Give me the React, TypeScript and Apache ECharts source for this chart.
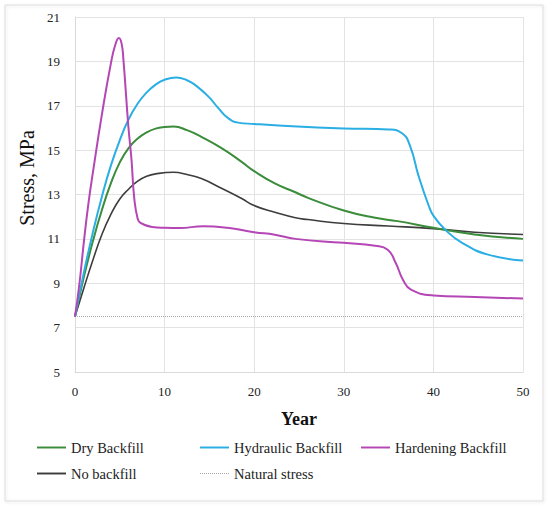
import React, { useEffect, useRef } from "react";
import * as echarts from "echarts";

const xTicks = [0, 10, 20, 30, 40, 50];
const yTicks = [5, 7, 9, 11, 13, 15, 17, 19, 21];

const dryBackfill: [number, number][] = [
  [0, 7.5], [1, 9.3], [2, 10.9], [3, 12.3], [4, 13.5], [5, 14.45], [6, 15.1],
  [7, 15.52], [8, 15.8], [9, 15.97], [10, 16.04], [11, 16.06], [12.5, 15.9], [14.1, 15.6],
  [16.4, 15.08], [18.6, 14.47], [20, 14.05], [22.3, 13.5], [24.6, 13.1], [26, 12.85],
  [30, 12.28], [33.5, 11.95], [36, 11.8], [40, 11.5], [44.6, 11.2], [50, 11.0],
];

const hydraulicBackfill: [number, number][] = [
  [0, 7.5], [1, 9.5], [2, 11.3], [3, 12.9], [4, 14.3], [5, 15.45], [6, 16.4],
  [7, 17.1], [8, 17.6], [9, 17.95], [10, 18.17], [11.3, 18.27], [12.5, 18.15],
  [13.4, 17.94], [14.9, 17.41], [16, 16.89], [17.1, 16.44], [18.2, 16.24], [20, 16.18],
  [22.3, 16.12], [30, 15.98], [35, 15.93], [36.5, 15.76], [37.4, 15.18],
  [38.35, 13.83], [39.5, 12.47], [40, 12.05], [41.3, 11.42], [43.2, 10.82],
  [46.1, 10.29], [50, 10.02],
];

const hardeningBackfill: [number, number][] = [
  [0, 7.5], [0.5, 9.0], [1, 10.9], [1.5, 12.6], [2, 14.0], [3, 16.6], [4, 18.9],
  [4.5, 19.75], [4.9, 20.05], [5.2, 19.8], [5.4, 19.1], [5.95, 16.1], [6.3, 14.6],
  [6.62, 12.8], [7.0, 11.9], [7.3, 11.72], [8.6, 11.54], [10, 11.5], [11.7, 11.49],
  [14.3, 11.57], [17, 11.5], [20, 11.3], [22.3, 11.19], [24.6, 11.0], [30, 10.82],
  [33.5, 10.69], [34.9, 10.51], [35.8, 9.91], [36.6, 9.16], [37.5, 8.71],
  [40, 8.45], [44.6, 8.38], [50, 8.31],
];

const noBackfill: [number, number][] = [
  [0, 7.5], [1, 8.8], [2, 10.05], [3, 11.2], [4, 12.1], [5, 12.8], [6, 13.25],
  [7, 13.6], [8, 13.82], [9, 13.93], [11, 14.0], [12.5, 13.9], [14.1, 13.72],
  [16.4, 13.27], [18.6, 12.82], [20, 12.5], [22.3, 12.2], [24.6, 11.95], [26, 11.87],
  [30, 11.69], [35, 11.58], [40, 11.46], [44.6, 11.3], [50, 11.2],
];

const naturalStress: [number, number][] = [
  [0, 7.5], [50, 7.5],
];

const FONT = "'Liberation Serif', 'Times New Roman', serif";

const SOLID_ICON = "path://M0,0H30V2H0Z";
const DOT_ICON =
  "path://" +
  Array.from({ length: 15 }, (_, i) => `M${i * 2},0H${i * 2 + 1}V1H${i * 2}Z`).join("");

export default function App() {
  const ref = useRef<HTMLDivElement>(null);

  useEffect(() => {
    if (!ref.current) return;
    const chart = echarts.init(ref.current, null, { renderer: "svg" });

    const mkLine = (name: string, data: [number, number][], color: string, width: number, type: any = "solid", smooth: any = true) => ({
      name,
      type: "line",
      data,
      smooth,
      symbol: "none",
      lineStyle: { color, width, type },
      itemStyle: { color },
      z: 3,
    });

    const legendBase = {
      itemWidth: 29,
      itemHeight: 2,
      textStyle: { fontFamily: FONT, fontSize: 14.5, color: "#222" },
      selectedMode: false,
    };

    chart.setOption({
      animation: false,
      backgroundColor: "#fff",
      textStyle: { fontFamily: FONT },
      grid: { left: 75, right: 27, top: 17, bottom: 133, containLabel: false },
      xAxis: {
        type: "value",
        min: 0,
        max: 50,
        interval: 10,
        axisLine: { show: true, lineStyle: { color: "#d9d9d9", width: 1 } },
        axisTick: { show: false },
        splitLine: { show: true, lineStyle: { color: "#e3e3e3", width: 1 } },
        axisLabel: { fontFamily: FONT, fontSize: 13, color: "#222", margin: 13 },
      },
      yAxis: {
        type: "value",
        min: 5,
        max: 21,
        interval: 2,
        axisLine: { show: true, lineStyle: { color: "#d9d9d9", width: 1 } },
        axisTick: { show: false },
        splitLine: { show: true, lineStyle: { color: "#e3e3e3", width: 1 } },
        axisLabel: { fontFamily: FONT, fontSize: 13, color: "#222", margin: 15 },
      },
      legend: [
        { ...legendBase, data: [{ name: "Dry Backfill", icon: SOLID_ICON }], left: 32, top: 435 },
        { ...legendBase, data: [{ name: "Hydraulic Backfill", icon: SOLID_ICON }], left: 195, top: 435 },
        { ...legendBase, data: [{ name: "Hardening Backfill", icon: SOLID_ICON }], left: 356, top: 435 },
        { ...legendBase, data: [{ name: "No backfill", icon: SOLID_ICON }], left: 32, top: 461 },
        { ...legendBase, itemHeight: 1, data: [{ name: "Natural stress", icon: DOT_ICON }], left: 195, top: 461 },
      ],
      graphic: [
        {
          type: "rect",
          shape: { x: 5, y: 5, width: 538, height: 496 },
          style: { fill: "none", stroke: "#dcdcdc", lineWidth: 1, shadowBlur: 3, shadowColor: "rgba(0,0,0,0.12)", shadowOffsetX: 1, shadowOffsetY: 1 },
          silent: true,
          z: -10,
        },
        {
          type: "text",
          x: 27,
          y: 178,
          rotation: Math.PI / 2,
          style: { text: "Stress, MPa", font: `20px 'Liberation Serif', serif`, fill: "#111", textAlign: "center", textVerticalAlign: "middle" },
          silent: true,
        },
        {
          type: "text",
          x: 299,
          y: 419,
          style: { text: "Year", font: `bold 18px 'Liberation Serif', serif`, fill: "#111", textAlign: "center", textVerticalAlign: "middle" },
          silent: true,
        },
      ],
      series: [
        mkLine("Natural stress", naturalStress, "#a8a8a8", 1, [1, 1], false),
        mkLine("No backfill", noBackfill, "#3d3d3d", 1.6),
        mkLine("Dry Backfill", dryBackfill, "#3b8c3b", 2),
        mkLine("Hydraulic Backfill", hydraulicBackfill, "#2aaee4", 2),
        mkLine("Hardening Backfill", hardeningBackfill, "#b546b5", 2),
      ],
    });

    return () => chart.dispose();
  }, []);

  return (
    <div
      ref={ref}
      style={{ position: "fixed", left: 0, top: 0, width: 550, height: 505, background: "#fff" }}
    />
  );
}
